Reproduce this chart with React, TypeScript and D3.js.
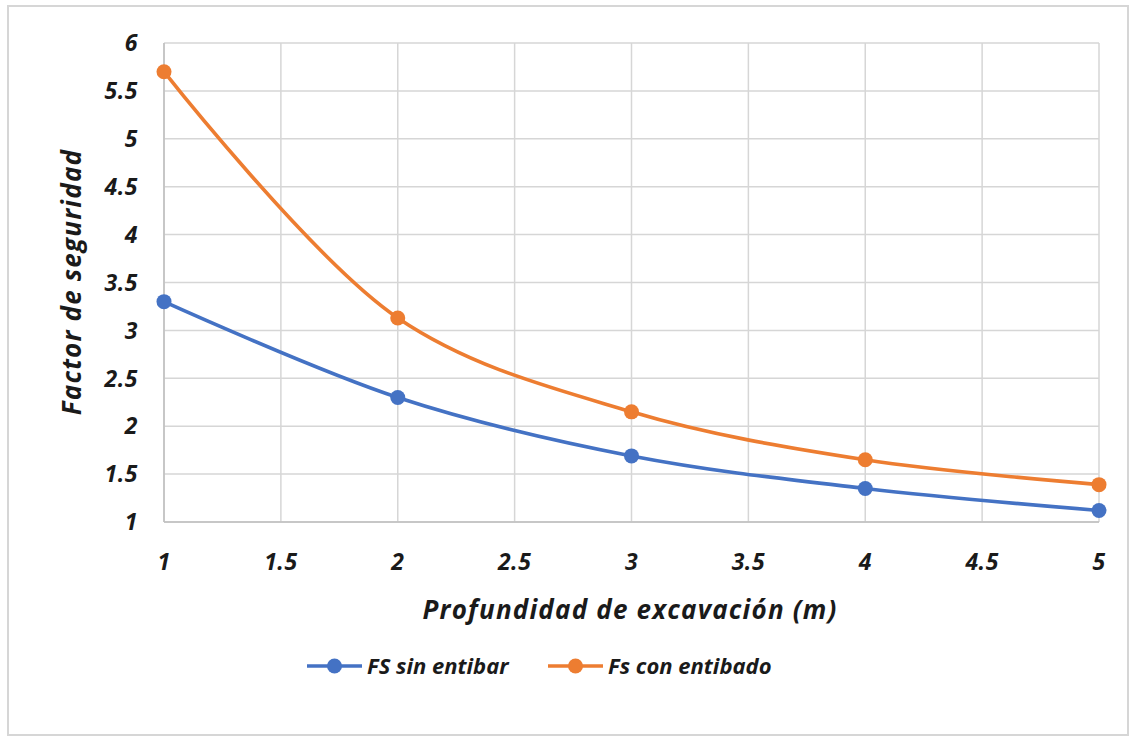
import React from "react";
import * as d3 from "d3";

const depths = [1, 2, 3, 4, 5];
const fsSinEntibar = [3.3, 2.3, 1.69, 1.35, 1.12];
const fsConEntibado = [5.7, 3.13, 2.15, 1.65, 1.39];
const xTicks = [1, 1.5, 2, 2.5, 3, 3.5, 4, 4.5, 5];
const yTicks = [1, 1.5, 2, 2.5, 3, 3.5, 4, 4.5, 5, 5.5, 6];
const seriesNames = ["FS sin entibar", "Fs con entibado"];
const seriesColors = ["#4472C4", "#ED7D31"];
const xTitle = "Profundidad de excavación (m)";
const yTitle = "Factor de seguridad";

const W = 1136;
const H = 738;
const FONT = "'Open Sans', Lato, sans-serif";

export default function App() {
  const x = d3.scaleLinear().domain([1, 5]).range([164, 1099]);
  const y = d3.scaleLinear().domain([1, 6]).range([522, 43]);
  const line = d3
    .line<number>()
    .x((_, i) => x(depths[i]))
    .y((d) => y(d))
    .curve(d3.curveCatmullRom.alpha(0.5));
  const series = [fsSinEntibar, fsConEntibado];

  const legendItems = [
    { x0: 307, tx: 367 },
    { x0: 548, tx: 608 },
  ];

  const txt = {
    fontFamily: FONT,
    fontWeight: "bold" as const,
    fontStyle: "italic" as const,
    fill: "#1a1a1a",
  };

  return (
    <svg
      width={W}
      height={H}
      style={{ position: "absolute", left: 0, top: 0, display: "block", background: "#fff" }}
    >
      <rect x={8} y={6} width={1120} height={729} fill="#fff" stroke="#d6d6d6" strokeWidth={2} />
      {xTicks.map((t) => (
        <line key={"gx" + t} x1={x(t)} x2={x(t)} y1={y(1)} y2={y(6)} stroke="#d6d6d6" strokeWidth={1.5} />
      ))}
      {yTicks.map((t) => (
        <line key={"gy" + t} x1={x(1)} x2={x(5)} y1={y(t)} y2={y(t)} stroke="#d6d6d6" strokeWidth={1.5} />
      ))}
      <line x1={x(1)} x2={x(1)} y1={y(1)} y2={y(6)} stroke="#bfbfbf" strokeWidth={1.5} />
      <line x1={x(1)} x2={x(5)} y1={y(1)} y2={y(1)} stroke="#bfbfbf" strokeWidth={1.5} />
      {yTicks.map((t) => (
        <text key={"ty" + t} x={138} y={y(t)} dy="0.36em" textAnchor="end" fontSize={23} letterSpacing={0.5} {...txt}>
          {String(t)}
        </text>
      ))}
      {xTicks.map((t) => (
        <text key={"tx" + t} x={x(t)} y={570} textAnchor="middle" fontSize={23} letterSpacing={0.5} {...txt}>
          {String(t)}
        </text>
      ))}
      <text x={630} y={619} textAnchor="middle" fontSize={26} letterSpacing={1.2} {...txt}>
        {xTitle}
      </text>
      <text transform={`translate(81,282) rotate(-90)`} textAnchor="middle" fontSize={26} letterSpacing={1.2} {...txt}>
        {yTitle}
      </text>
      {series.map((s, si) => (
        <g key={"s" + si}>
          <path d={line(s) || ""} fill="none" stroke={seriesColors[si]} strokeWidth={3.6} />
          {s.map((v, i) => (
            <circle key={i} cx={x(depths[i])} cy={y(v)} r={7.5} fill={seriesColors[si]} />
          ))}
        </g>
      ))}
      {legendItems.map((li, i) => (
        <g key={"l" + i}>
          <line x1={li.x0} x2={li.x0 + 55} y1={666} y2={666} stroke={seriesColors[i]} strokeWidth={3.6} />
          <circle cx={li.x0 + 27.5} cy={666} r={7.5} fill={seriesColors[i]} />
          <text x={li.tx} y={666} dy="0.36em" fontSize={22} {...txt}>
            {seriesNames[i]}
          </text>
        </g>
      ))}
    </svg>
  );
}
